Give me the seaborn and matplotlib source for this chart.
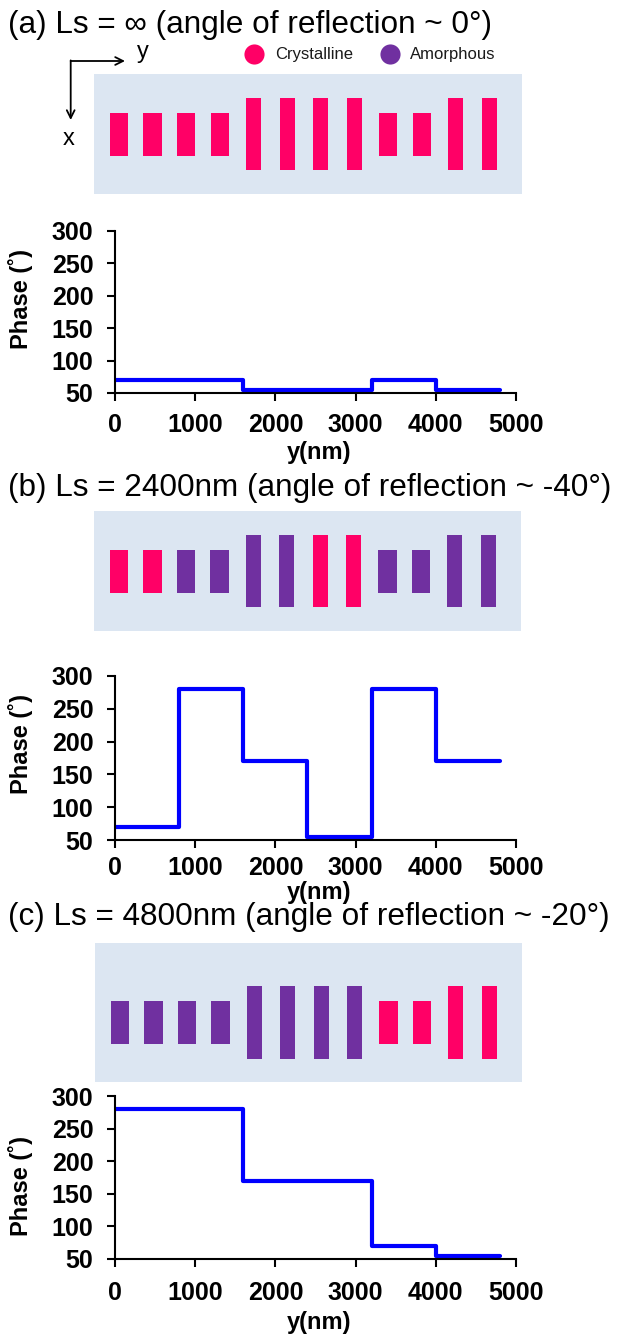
import matplotlib
matplotlib.use('Agg')
import numpy as np
import matplotlib.pyplot as plt
from matplotlib.lines import Line2D
import seaborn as sns

# metasurface cells: centre of each 400 nm cell along y (nm)
bar_y = [200, 600, 1000, 1400, 1800, 2200, 2600, 3000, 3400, 3800, 4200, 4600]
bar_size = ['short', 'short', 'short', 'short', 'tall', 'tall', 'tall', 'tall',
            'short', 'short', 'tall', 'tall']

# phase state of every bar in the three designs
state_a = ['C', 'C', 'C', 'C', 'C', 'C', 'C', 'C', 'C', 'C', 'C', 'C']
state_b = ['C', 'C', 'A', 'A', 'A', 'A', 'C', 'C', 'A', 'A', 'A', 'A']
state_c = ['A', 'A', 'A', 'A', 'A', 'A', 'A', 'A', 'C', 'C', 'C', 'C']

# phase profile: segment edges (nm) and phase of each segment (deg)
edges_a = [0, 1600, 3200, 4000, 4800]
phase_a = [70, 55, 70, 55]
edges_b = [0, 800, 1600, 2400, 3200, 4000, 4800]
phase_b = [70, 280, 170, 55, 280, 170]
edges_c = [0, 1600, 3200, 4000, 4800]
phase_c = [280, 170, 70, 55]

titles = ['(a) Ls = \u221e (angle of reflection ~ 0\u00b0)',
          '(b) Ls = 2400nm (angle of reflection ~ -40\u00b0)',
          '(c) Ls = 4800nm (angle of reflection ~ -20\u00b0)']

sns.set_style('ticks')
plt.rcParams['font.family'] = ['Liberation Sans', 'DejaVu Sans']
plt.rcParams['text.color'] = 'black'
plt.rcParams['axes.labelcolor'] = 'black'
plt.rcParams['xtick.color'] = 'black'
plt.rcParams['ytick.color'] = 'black'

W, H = 618, 1336
PINK = '#FF0066'
PURPLE = '#7030A0'
colors = {'C': PINK, 'A': PURPLE}
bar_w = {'short': 218, 'tall': 178}
bar_h = {'short': 43, 'tall': 72}

fig = plt.figure(figsize=(W / 100, H / 100), dpi=100)


def rect(x0, y0, x1, y1):
    return [x0 / W, 1 - y1 / H, (x1 - x0) / W, (y1 - y0) / H]


# layout in pixels
box_rects = [(94, 74, 522, 194), (94, 511, 521, 631), (95, 943, 522, 1082)]
box_pad = [(60, 60), (60, 60), (79, 59)]  # above / below bar centre
plot_rects = [(115, 231, 516, 393), (115, 676, 516, 840), (115, 1096, 516, 1259)]
title_base = [33, 496, 925]
ylab_frac = [0.578, 0.585, 0.447]
xlab_off = [59, 52, 64]
xtick_pad = [9, 6, 10]

states = [state_a, state_b, state_c]
edges = [edges_a, edges_b, edges_c]
phases = [phase_a, phase_b, phase_c]

for i in range(3):
    fig.text(8.5 / W, 1 - title_base[i] / H, titles[i], fontsize=22.7,
             va='baseline', ha='left', color='black')

    # nanostructure sketch
    bx = fig.add_axes(rect(*box_rects[i]))
    bx.set_facecolor('#DCE6F2')
    hs = np.array([bar_h[s] for s in bar_size], dtype=float)
    ws = [bar_w[s] for s in bar_size]
    bx.bar(bar_y, hs, width=ws, bottom=-hs / 2,
           color=[colors[s] for s in states[i]], linewidth=0)
    bx.set_xlim(-96, 4990)
    bx.set_ylim(box_pad[i][1], -box_pad[i][0])
    bx.set_xticks([])
    bx.set_yticks([])
    for sp in bx.spines.values():
        sp.set_visible(False)

    # phase profile
    ax = fig.add_axes(rect(*plot_rects[i]))
    xs = edges[i]
    ys = phases[i] + [phases[i][-1]]
    sns.lineplot(x=xs, y=ys, ax=ax, drawstyle='steps-post', color='#0000FF',
                 linewidth=3, estimator=None, sort=False)
    ax.set_xlim(0, 5000)
    ax.set_ylim(50, 300)
    ax.set_xticks(range(0, 5001, 1000))
    ax.set_yticks(range(50, 301, 50))
    for side in ['top', 'right']:
        ax.spines[side].set_visible(False)
    for side in ['left', 'bottom']:
        ax.spines[side].set_linewidth(1.5)
        ax.spines[side].set_color('black')
    ax.tick_params(axis='both', direction='out', length=5.5, width=1.5,
                   color='black', labelcolor='black', labelsize=18,
                   bottom=True, left=True)
    ax.tick_params(axis='y', pad=10)
    ax.tick_params(axis='x', pad=xtick_pad[i])
    for lab in ax.get_xticklabels() + ax.get_yticklabels():
        lab.set_fontweight('bold')
    ax.set_ylabel('Phase (\u02da)', fontsize=17, fontweight='bold')
    ax.yaxis.label.set_va('center')
    ax.yaxis.set_label_coords((20.5 - 115) / 401, ylab_frac[i])
    ax.set_xlabel('y(nm)', fontsize=17, fontweight='bold')
    ax.xaxis.label.set_va('center')
    ax.xaxis.set_label_coords(0.51, -xlab_off[i] / (plot_rects[i][3] - plot_rects[i][1]))

# coordinate arrows of panel (a)
ov = fig.add_axes([0, 0, 1, 1])
ov.set_xlim(0, W)
ov.set_ylim(H, 0)
ov.axis('off')
ov.patch.set_alpha(0)
ov.annotate('', xy=(125, 61), xytext=(70.7, 61),
            arrowprops=dict(arrowstyle='->', lw=1.3, color='black',
                            shrinkA=0, shrinkB=0, mutation_scale=14))
ov.annotate('', xy=(70.7, 120), xytext=(70.7, 60.4),
            arrowprops=dict(arrowstyle='->', lw=1.3, color='black',
                            shrinkA=0, shrinkB=0, mutation_scale=14))
ov.text(143, 52, 'y', fontsize=17, ha='center', va='center')
ov.text(69, 139, 'x', fontsize=17, ha='center', va='center')

handles = [Line2D([], [], marker='o', linestyle='none', markersize=14.5,
                  markerfacecolor=PINK, markeredgewidth=0, label='Crystalline'),
           Line2D([], [], marker='o', linestyle='none', markersize=14.5,
                  markerfacecolor=PURPLE, markeredgewidth=0, label='Amorphous')]
fig.legend(handles=handles, loc='center left', bbox_to_anchor=(246 / W, 1 - 55 / H),
           ncol=2, frameon=False, fontsize=12, handlelength=1.0, handletextpad=0.74,
           columnspacing=1.7, borderpad=0, borderaxespad=0, labelcolor='#1a1a1a')

fig.savefig('out.png', dpi=100)
